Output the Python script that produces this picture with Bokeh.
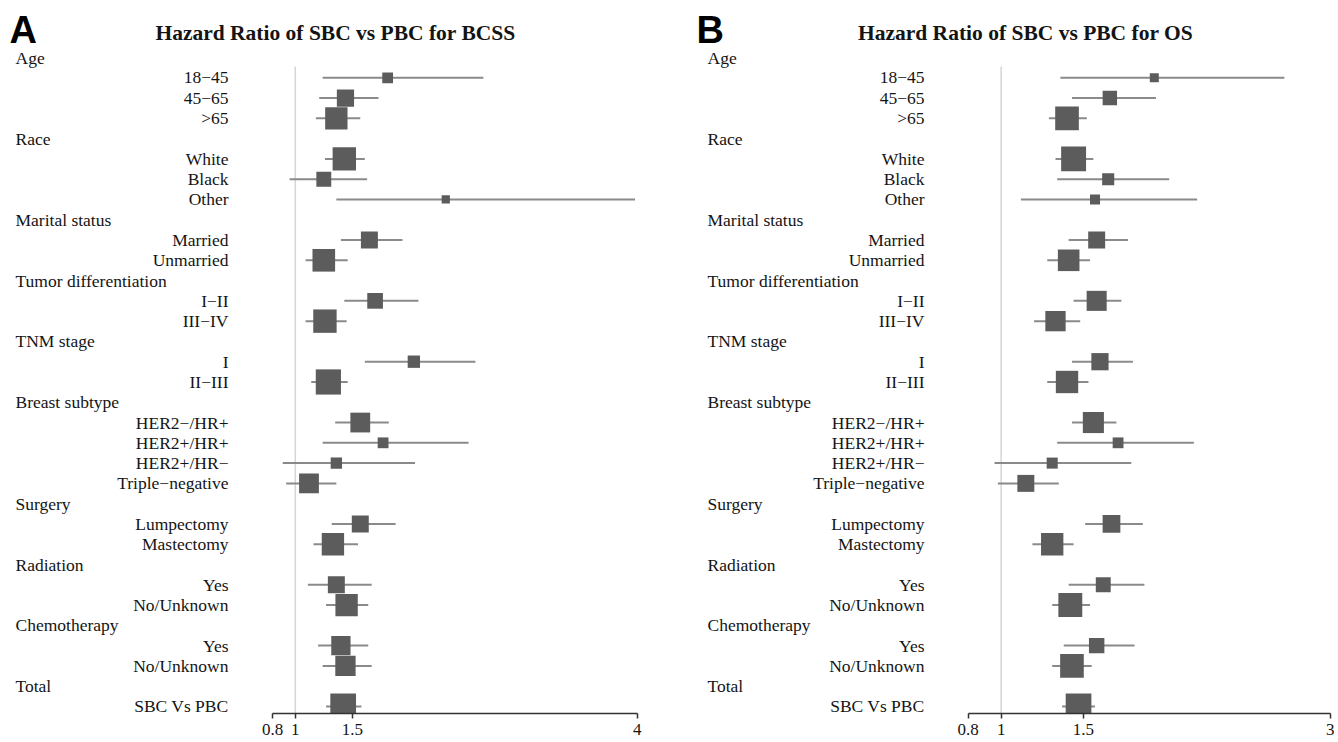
from bokeh.plotting import figure
from bokeh.models import ColumnDataSource, Range1d, FixedTicker, NumeralTickFormatter
from bokeh.layouts import row
from bokeh.core.properties import value
from bokeh.embed import file_html
from bokeh.resources import INLINE

# ---------------- data ----------------
groups = ["Age", "Race", "Marital status", "Tumor differentiation", "TNM stage",
          "Breast subtype", "Surgery", "Radiation", "Chemotherapy", "Total"]
subgroups = [["18−45", "45−65", ">65"],
             ["White", "Black", "Other"],
             ["Married", "Unmarried"],
             ["I−II", "III−IV"],
             ["I", "II−III"],
             ["HER2−/HR+", "HER2+/HR+", "HER2+/HR−", "Triple−negative"],
             ["Lumpectomy", "Mastectomy"],
             ["Yes", "No/Unknown"],
             ["Yes", "No/Unknown"],
             ["SBC Vs PBC"]]

# Panel A: BCSS
hr_a = [1.81, 1.44, 1.36, 1.43, 1.25, 2.32, 1.65, 1.25, 1.70, 1.26, 2.04, 1.29,
        1.57, 1.77, 1.36, 1.12, 1.57, 1.33, 1.36, 1.45, 1.40, 1.44, 1.42]
lo_a = [1.24, 1.21, 1.18, 1.26, 0.95, 1.36, 1.40, 1.09, 1.43, 1.09, 1.61, 1.14,
        1.35, 1.24, 0.89, 0.92, 1.32, 1.16, 1.11, 1.27, 1.20, 1.24, 1.27]
hi_a = [2.65, 1.73, 1.57, 1.61, 1.63, 3.98, 1.94, 1.46, 2.08, 1.45, 2.58, 1.46,
        1.82, 2.52, 2.05, 1.36, 1.88, 1.55, 1.67, 1.64, 1.64, 1.67, 1.58]
weight_a = [0.42, 0.67, 0.87, 0.91, 0.58, 0.32, 0.66, 0.88, 0.61, 0.91, 0.48, 0.98,
            0.77, 0.42, 0.44, 0.77, 0.66, 0.87, 0.66, 0.87, 0.75, 0.79, 1.00]

# Panel B: OS
hr_b = [1.93, 1.66, 1.40, 1.44, 1.65, 1.57, 1.58, 1.41, 1.58, 1.33, 1.60, 1.40,
        1.56, 1.71, 1.31, 1.15, 1.67, 1.31, 1.62, 1.42, 1.58, 1.43, 1.47]
lo_b = [1.36, 1.43, 1.29, 1.33, 1.34, 1.12, 1.41, 1.28, 1.44, 1.20, 1.43, 1.28,
        1.43, 1.34, 0.96, 0.98, 1.51, 1.19, 1.41, 1.31, 1.38, 1.31, 1.37]
hi_b = [2.72, 1.94, 1.52, 1.56, 2.02, 2.19, 1.77, 1.54, 1.73, 1.48, 1.80, 1.53,
        1.70, 2.17, 1.79, 1.35, 1.86, 1.44, 1.87, 1.54, 1.81, 1.55, 1.57]
weight_b = [0.35, 0.56, 0.92, 0.97, 0.47, 0.39, 0.66, 0.84, 0.78, 0.79, 0.67, 0.87,
            0.82, 0.42, 0.43, 0.66, 0.69, 0.87, 0.58, 0.93, 0.60, 0.92, 1.00]

ticks_a = [0.8, 1, 1.5, 4]
ticks_b = [0.8, 1, 1.5, 3]

# ---------------- layout constants (pixels) ----------------
H = 742
BORDER_B = 29
ROW0 = 57.0        # y of first row
ROW_SP = 20.28     # row spacing
MAX_BOX = 25.7
SERIF = "Liberation Serif"
TXT = "#141414"

# row positions
head_y, head_txt, sub_y, sub_txt = [], [], [], []
r = 0
for g, subs in zip(groups, subgroups):
    head_y.append(-r)
    head_txt.append(g)
    r += 1
    for s in subs:
        sub_y.append(-r)
        sub_txt.append(s)
        r += 1


def ypx(ya):
    return -(ya - ROW0) / ROW_SP


def panel(letter, title, hr, lo, hi, w, ticks, width, left_abs, ppu, x0_abs,
          head_abs, lab_right_abs, title_abs, letter_abs):
    def px(xa):
        return ticks[0] + (xa - x0_abs) / ppu

    xs = px(left_abs)
    xe = xs + width / ppu
    frame_h = H - BORDER_B
    y_top = ypx(0)
    y_bot = y_top - frame_h / ROW_SP

    p = figure(width=width, height=H, output_backend="svg", toolbar_location=None,
               x_range=Range1d(xs, xe), y_range=Range1d(y_bot, y_top),
               y_axis_location=None, min_border=0, min_border_bottom=BORDER_B)
    p.outline_line_color = None
    p.xgrid.visible = False
    p.ygrid.visible = False
    p.background_fill_color = "white"
    p.border_fill_color = "white"

    ax = p.xaxis[0]
    ax.ticker = FixedTicker(ticks=ticks)
    ax.bounds = (ticks[0], ticks[-1])
    ax.formatter = NumeralTickFormatter(format="0.[0]")
    ax.major_label_text_font = SERIF
    ax.major_label_text_font_size = "17px"
    ax.major_label_text_color = TXT
    ax.major_label_standoff = 5
    ax.major_tick_out = 5
    ax.major_tick_in = 0
    ax.minor_tick_line_color = None
    ax.axis_line_color = "#333333"
    ax.axis_line_width = 1.5
    ax.major_tick_line_color = "#333333"
    ax.major_tick_line_width = 1.5

    # reference line at 1
    p.segment(x0=[1], y0=[ypx(66)], x1=[1], y1=[y_bot], line_color="#d6d6d6", line_width=1.5)

    src = ColumnDataSource(dict(y=sub_y, hr=hr, lo=lo, hi=hi,
                                size=[MAX_BOX * v for v in w]))
    p.segment(x0="lo", y0="y", x1="hi", y1="y", source=src,
              line_color="#8a8a8a", line_width=2)
    p.scatter(x="hr", y="y", size="size", marker="square", source=src,
              fill_color="#5c5c5c", line_color=None)

    # labels
    p.text(x=[px(head_abs)] * len(head_y), y=head_y, text=head_txt,
           text_font=value(SERIF), text_font_size="17.5px", text_color=TXT,
           text_align="left", text_baseline="middle")
    p.text(x=[px(lab_right_abs)] * len(sub_y), y=sub_y, text=sub_txt,
           text_font=value(SERIF), text_font_size="17.5px", text_color=TXT,
           text_align="right", text_baseline="middle")

    # title and panel letter
    p.text(x=[px(title_abs)], y=[ypx(32)], text=[title],
           text_font=value(SERIF), text_font_size="21.5px", text_font_style="bold",
           text_color=TXT, text_align="center", text_baseline="middle")
    p.text(x=[px(letter_abs)], y=[ypx(29)], text=[letter],
           text_font=value("Liberation Sans"), text_font_size="38px",
           text_font_style="bold", text_color="#000000",
           text_align="left", text_baseline="middle")
    return p


TOTAL_W = 1334
WA = 694
WB = TOTAL_W - WA
pa = panel("A", "Hazard Ratio of SBC vs PBC for BCSS", hr_a, lo_a, hi_a, weight_a, ticks_a,
           WA, 0, 114.0, 272.0, 15, 228, 335, 9)
pb = panel("B", "Hazard Ratio of SBC vs PBC for OS", hr_b, lo_b, hi_b, weight_b, ticks_b,
           WB, WA, 164.7, 967.7, 707, 924, 1025, 696)

layout = row(pa, pb)
open("out.html", "w").write(file_html(layout, INLINE))
